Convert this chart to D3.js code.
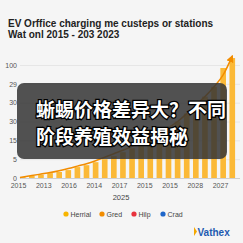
<!DOCTYPE html>
<html>
<head>
<meta charset="utf-8">
<script src="https://cdn.jsdelivr.net/npm/d3@7"></script>
<style>
  html, body { margin: 0; padding: 0; background: #f5f5f5; }
  svg { display: block; }
</style>
</head>
<body>
<svg id="chart" width="243" height="243"></svg>
<script>
const titleLines = ["EV Orffice charging me custeps or stations", "Wat onl 2015 - 203 2023"];
const yTickValues = [0, 10, 20, 30, 40, 50, 60];
const yTickLabels = ["0", "5", "15", "30", "30", "29", "100"];
const xTickLabels = ["2015", "2013", "2016", "2014", "2017", "2015", "2015", "2028", "2027"];
const xAxisTitle = "2025";
const barValues = [0.5, 1.1, 1.8, 2.6, 3.2, 4.2, 5.8, 6.8, 8.4, 10, 11.6, 13.7, 15.8, 17.9, 20.5, 23.2, 26.3, 30, 34.2, 38.4, 43.2, 48.4, 58.4, 63.7];
const lineValues = [0.3, 1.3, 2.1, 2.9, 3.9, 5, 6.3, 7.6, 9.2, 11, 12.9, 14.7, 16.8, 19.2, 21.6, 24.2, 26.8, 30, 34.2, 38.9, 43.2, 48.4, 54.7, 64.7];
const legendNames = ["Herrial", "Gred", "Hilp", "Crad"];
const legendColors = ["#f7b500", "#f28c00", "#e8323c", "#1f66c9"];
const overlayLines = ["蜥蜴价格差异大？不同", "阶段养殖效益揭秘"];

const svg = d3.select("#chart");
const width = +svg.attr("width");
const height = +svg.attr("height");

svg.append("rect").attr("width", width).attr("height", height).attr("fill", "#f5f5f5");

// title
svg.append("g").selectAll("text").data(titleLines)
  .enter().append("text")
    .attr("x", 8)
    .attr("y", (d, i) => 27 + i * 10.5)
    .text(d => d)
    .style("font-family", "Liberation Sans, Arial, sans-serif")
    .style("font-size", "10px")
    .style("font-weight", "600")
    .style("fill", "#222");

const y = d3.scaleLinear().domain([0, 60]).range([178, 65]);
const x = d3.scaleBand().domain(d3.range(barValues.length)).range([19, 236]).paddingInner(0.38).paddingOuter(0.1);
const xLabels = d3.scalePoint().domain(d3.range(xTickLabels.length)).range([18, 220]);

// grid + y labels
const yAxis = svg.append("g")
  .attr("transform", "translate(20,0)")
  .call(d3.axisLeft(y).tickValues(yTickValues).tickSize(-220).tickFormat((d, i) => yTickLabels[i]));
yAxis.select(".domain").remove();
yAxis.selectAll(".tick line").attr("stroke", (d) => d == 0 ? "#cfcfcf" : "#e6e6e6");
yAxis.selectAll(".tick text")
  .attr("x", -3)
  .style("font-family", "Liberation Sans, Arial, sans-serif")
  .style("font-size", "7px")
  .style("fill", "#555");

// bars
svg.append("g").selectAll("rect").data(barValues)
  .enter().append("rect")
    .attr("x", (d, i) => x(i))
    .attr("y", d => y(d))
    .attr("width", x.bandwidth())
    .attr("height", d => y(0) - y(d))
    .attr("fill", "#fbb937");

// trend line with arrow
svg.append("defs").append("marker")
    .attr("id", "arrow")
    .attr("viewBox", "0 0 10 10")
    .attr("refX", 8).attr("refY", 5)
    .attr("markerWidth", 5).attr("markerHeight", 5)
    .attr("orient", "auto")
  .append("path")
    .attr("d", "M0,0L10,5L0,10Z")
    .attr("fill", "#f28c00");

const line = d3.line()
  .x((d, i) => i == 0 ? 20 : x(i) + x.bandwidth() / 2)
  .y(d => y(d))
  .curve(d3.curveMonotoneX);

svg.append("path")
  .datum(lineValues)
  .attr("d", line)
  .attr("fill", "none")
  .attr("stroke", "#f28c00")
  .attr("stroke-width", 1.5)
  .attr("marker-end", "url(#arrow)");

// x axis labels
const xAxis = svg.append("g")
  .attr("transform", "translate(0,180)")
  .call(d3.axisBottom(xLabels).tickSize(0).tickFormat((d, i) => xTickLabels[i]));
xAxis.select(".domain").remove();
xAxis.selectAll(".tick text")
  .attr("dy", "0.71em")
  .attr("y", 3)
  .style("font-family", "Liberation Sans, Arial, sans-serif")
  .style("font-size", "7px")
  .style("fill", "#555");

svg.append("text")
  .attr("x", 121).attr("y", 200)
  .attr("text-anchor", "middle")
  .text(xAxisTitle)
  .style("font-family", "Liberation Sans, Arial, sans-serif")
  .style("font-size", "7.5px")
  .style("fill", "#444");

// legend
const legend = svg.append("g").selectAll("g").data(legendNames)
  .enter().append("g")
    .attr("transform", (d, i) => "translate(" + [66, 102, 134, 163][i] + ",214)");
legend.append("circle").attr("r", 2.6).attr("fill", (d, i) => legendColors[i]);
legend.append("text")
  .attr("x", 4.5).attr("y", 2.5)
  .text(d => d)
  .style("font-family", "Liberation Sans, Arial, sans-serif")
  .style("font-size", "7px")
  .style("fill", "#444");

// overlay caption
svg.append("rect")
  .attr("x", 17).attr("y", 83)
  .attr("width", 210).attr("height", 76)
  .attr("rx", 7)
  .attr("fill", "#363636")
  .attr("opacity", 0.86);

svg.append("g").selectAll("text").data(overlayLines)
  .enter().append("text")
    .attr("x", 36)
    .attr("y", (d, i) => 116.5 + i * 27)
    .text(d => d)
    .style("font-family", "Noto Sans CJK SC, sans-serif")
    .style("font-size", "19px")
    .style("font-weight", "700")
    .style("fill", "#fff")
    .style("stroke", "#000")
    .style("stroke-width", "2.5px")
    .style("paint-order", "stroke");

// logo
const logo = svg.append("g").attr("transform", "translate(194,236)");
logo.append("path").attr("d", "M0,-9L3,-4.5L0,0Z").attr("fill", "#f5a800");
logo.append("text")
  .attr("x", 3.5)
  .text("Vathex")
  .style("font-family", "Liberation Sans, Arial, sans-serif")
  .style("font-size", "10px")
  .style("font-weight", "700")
  .style("fill", "#1e5bb0");
</script>
</body>
</html>
